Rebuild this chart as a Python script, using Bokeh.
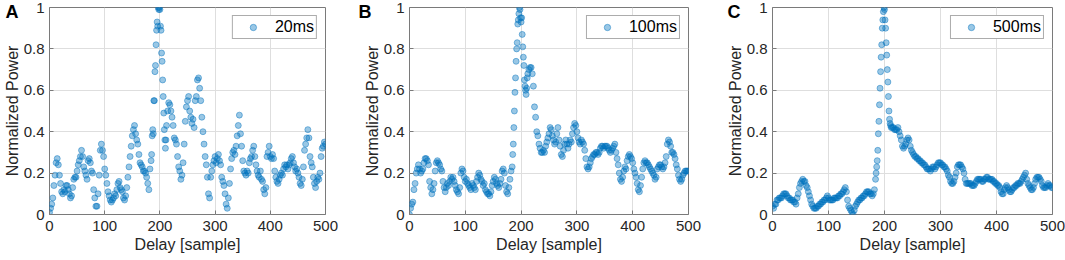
from bokeh.plotting import figure
from bokeh.layouts import row
from bokeh.models import Title, NumeralTickFormatter, FixedTicker, Range1d
from bokeh.embed import file_html
from bokeh.resources import INLINE

# sample positions (every 2nd sample, every sample around the peak)
delay = list(range(0, 184, 2)) + list(range(184, 213)) + list(range(214, 501, 2))

power_20ms = [
    0.01, 0.03, 0.05, 0.08, 0.14, 0.19, 0.25, 0.27, 0.24, 0.19,
    0.15, 0.11, 0.10, 0.12, 0.11, 0.14, 0.14, 0.12, 0.10, 0.08,
    0.09, 0.13, 0.17, 0.18, 0.18, 0.21, 0.24, 0.26, 0.28, 0.31,
    0.28, 0.23, 0.21, 0.19, 0.17, 0.26, 0.27, 0.25, 0.21, 0.20,
    0.12, 0.08, 0.04, 0.04, 0.10, 0.19, 0.31, 0.34, 0.31, 0.28,
    0.22, 0.19, 0.15, 0.11, 0.09, 0.07, 0.06, 0.07, 0.08, 0.10,
    0.09, 0.12, 0.15, 0.16, 0.13, 0.12, 0.11, 0.08, 0.07, 0.09,
    0.13, 0.18, 0.23, 0.28, 0.33, 0.38, 0.41, 0.43, 0.39, 0.36,
    0.34, 0.29, 0.25, 0.24, 0.23, 0.21, 0.21, 0.20, 0.18, 0.15,
    0.12, 0.22,
    0.26, 0.29, 0.38, 0.41, 0.39, 0.55, 0.55, 0.69, 0.72, 0.82,
    0.89, 0.93, 0.91, 1.00, 0.99, 1.00, 0.99, 0.91, 0.89, 0.78,
    0.74, 0.65, 0.57, 0.49, 0.41, 0.36, 0.32, 0.36, 0.43,
    0.50, 0.54, 0.53, 0.50, 0.47, 0.43, 0.37, 0.36, 0.34, 0.28,
    0.23, 0.21, 0.17, 0.19, 0.25, 0.34, 0.45, 0.52, 0.55, 0.57,
    0.50, 0.47, 0.44, 0.46, 0.42, 0.55, 0.57, 0.65, 0.66, 0.61,
    0.55, 0.47, 0.40, 0.34, 0.28, 0.24, 0.18, 0.10, 0.08, 0.18,
    0.21, 0.24, 0.26, 0.28, 0.25, 0.27, 0.29, 0.26, 0.24, 0.18,
    0.16, 0.14, 0.10, 0.05, 0.03, 0.08, 0.15, 0.22, 0.27, 0.30,
    0.31, 0.29, 0.33, 0.38, 0.43, 0.48, 0.39, 0.33, 0.26, 0.21,
    0.20, 0.19, 0.21, 0.20, 0.25, 0.27, 0.28, 0.31, 0.33, 0.28,
    0.24, 0.21, 0.19, 0.18, 0.21, 0.17, 0.16, 0.12, 0.10, 0.13,
    0.28, 0.30, 0.33, 0.28, 0.27, 0.29, 0.27, 0.21, 0.18, 0.16,
    0.15, 0.17, 0.19, 0.20, 0.19, 0.22, 0.24, 0.23, 0.24, 0.22,
    0.24, 0.25, 0.27, 0.28, 0.25, 0.23, 0.21, 0.22, 0.20, 0.18,
    0.15, 0.14, 0.17, 0.23, 0.31, 0.34, 0.37, 0.41, 0.37, 0.28,
    0.25, 0.23, 0.18, 0.15, 0.13, 0.16, 0.18, 0.17, 0.20, 0.28,
    0.32, 0.33, 0.35, 0.34,
]

power_100ms = [
    0.00, 0.03, 0.05, 0.06, 0.12, 0.15, 0.20, 0.22, 0.24, 0.22,
    0.20, 0.21, 0.22, 0.25, 0.27, 0.27, 0.26, 0.24, 0.16, 0.13,
    0.10, 0.12, 0.15, 0.21, 0.25, 0.26, 0.25, 0.24, 0.22, 0.21,
    0.16, 0.13, 0.11, 0.13, 0.15, 0.14, 0.16, 0.18, 0.17, 0.18,
    0.16, 0.14, 0.12, 0.11, 0.10, 0.13, 0.20, 0.22, 0.21, 0.18,
    0.16, 0.17, 0.15, 0.14, 0.13, 0.12, 0.15, 0.14, 0.13, 0.12,
    0.16, 0.18, 0.20, 0.19, 0.17, 0.16, 0.14, 0.15, 0.12, 0.11,
    0.10, 0.10, 0.09, 0.11, 0.14, 0.16, 0.18, 0.17, 0.15, 0.14,
    0.13, 0.15, 0.17, 0.21, 0.22, 0.20, 0.14, 0.11, 0.10, 0.13,
    0.17, 0.21,
    0.23, 0.29, 0.34, 0.42, 0.50, 0.59, 0.66, 0.74, 0.80, 0.83,
    0.92, 0.94, 0.97, 1.00, 0.99, 0.95, 0.93, 0.95, 0.87, 0.81,
    0.76, 0.72, 0.65, 0.62, 0.60, 0.58, 0.61, 0.66, 0.68,
    0.70, 0.71, 0.71, 0.68, 0.62, 0.52, 0.47, 0.40, 0.38, 0.34,
    0.32, 0.30, 0.30, 0.31, 0.30, 0.33, 0.35, 0.37, 0.39, 0.42,
    0.41, 0.38, 0.36, 0.34, 0.35, 0.39, 0.42, 0.36, 0.33, 0.29,
    0.28, 0.31, 0.34, 0.36, 0.34, 0.32, 0.34, 0.36, 0.35, 0.39,
    0.42, 0.44, 0.43, 0.40, 0.37, 0.35, 0.34, 0.36, 0.35, 0.34,
    0.31, 0.27, 0.23, 0.22, 0.23, 0.25, 0.27, 0.28, 0.29, 0.29,
    0.30, 0.30, 0.29, 0.30, 0.32, 0.33, 0.33, 0.32, 0.33, 0.33,
    0.33, 0.32, 0.31, 0.30, 0.31, 0.32, 0.33, 0.34, 0.30, 0.27,
    0.24, 0.20, 0.17, 0.16, 0.18, 0.21, 0.23, 0.22, 0.26, 0.28,
    0.29, 0.28, 0.27, 0.25, 0.22, 0.20, 0.18, 0.15, 0.12, 0.11,
    0.14, 0.18, 0.22, 0.25, 0.26, 0.25, 0.25, 0.24, 0.23, 0.22,
    0.21, 0.20, 0.19, 0.17, 0.18, 0.22, 0.23, 0.24, 0.24, 0.23,
    0.22, 0.23, 0.25, 0.28, 0.34, 0.36, 0.35, 0.33, 0.30, 0.30,
    0.29, 0.27, 0.24, 0.22, 0.19, 0.17, 0.16, 0.17, 0.19, 0.20,
    0.21, 0.21, 0.21, 0.21,
]

power_500ms = [
    0.04, 0.03, 0.05, 0.05, 0.07, 0.07, 0.08, 0.08, 0.08, 0.09,
    0.10, 0.10, 0.10, 0.09, 0.08, 0.08, 0.07, 0.07, 0.07, 0.06,
    0.06, 0.05, 0.08, 0.10, 0.13, 0.15, 0.16, 0.17, 0.16, 0.16,
    0.14, 0.13, 0.11, 0.09, 0.07, 0.05, 0.04, 0.03, 0.03, 0.03,
    0.04, 0.04, 0.05, 0.05, 0.06, 0.06, 0.07, 0.07, 0.08, 0.09,
    0.08, 0.07, 0.07, 0.07, 0.07, 0.08, 0.08, 0.08, 0.08, 0.09,
    0.09, 0.10, 0.10, 0.11, 0.12, 0.13, 0.11, 0.07, 0.04, 0.03,
    0.02, 0.01, 0.00, 0.02, 0.04, 0.05, 0.06, 0.07, 0.07, 0.08,
    0.08, 0.09, 0.09, 0.10, 0.11, 0.11, 0.11, 0.10, 0.10, 0.09,
    0.10, 0.12,
    0.17, 0.20, 0.23, 0.26, 0.31, 0.39, 0.45, 0.53, 0.61, 0.69,
    0.76, 0.82, 0.90, 0.94, 0.98, 1.00, 0.99, 0.94, 0.90, 0.83,
    0.77, 0.70, 0.64, 0.57, 0.50, 0.46, 0.44, 0.43, 0.42,
    0.42, 0.42, 0.41, 0.41, 0.41, 0.42, 0.40, 0.38, 0.36, 0.33,
    0.32, 0.33, 0.34, 0.36, 0.37, 0.36, 0.33, 0.31, 0.30, 0.29,
    0.28, 0.28, 0.27, 0.27, 0.26, 0.26, 0.25, 0.25, 0.24, 0.24,
    0.23, 0.22, 0.22, 0.22, 0.21, 0.22, 0.23, 0.23, 0.22, 0.23,
    0.24, 0.25, 0.25, 0.25, 0.24, 0.24, 0.23, 0.23, 0.22, 0.21,
    0.19, 0.18, 0.16, 0.15, 0.15, 0.16, 0.18, 0.20, 0.23, 0.24,
    0.24, 0.24, 0.23, 0.22, 0.20, 0.17, 0.15, 0.15, 0.15, 0.15,
    0.15, 0.14, 0.14, 0.14, 0.15, 0.16, 0.17, 0.17, 0.17, 0.17,
    0.16, 0.16, 0.17, 0.17, 0.18, 0.18, 0.17, 0.17, 0.17, 0.17,
    0.16, 0.16, 0.15, 0.15, 0.14, 0.14, 0.13, 0.11, 0.10, 0.10,
    0.12, 0.13, 0.14, 0.13, 0.12, 0.11, 0.11, 0.12, 0.13, 0.13,
    0.14, 0.14, 0.15, 0.15, 0.15, 0.16, 0.17, 0.18, 0.19, 0.20,
    0.17, 0.15, 0.14, 0.13, 0.12, 0.12, 0.13, 0.15, 0.17, 0.18,
    0.18, 0.18, 0.17, 0.16, 0.14, 0.13, 0.13, 0.13, 0.14, 0.15,
    0.14, 0.14, 0.13, 0.13,
]

series_labels = ["20ms", "100ms", "500ms"]
panel_letters = ["A", "B", "C"]
x_ticks = [0, 100, 200, 300, 400, 500]
y_ticks = [0, 0.2, 0.4, 0.6, 0.8, 1]

BLUE = "#0072BD"
FONT = "Liberation Sans"


def make_panel(ys, label, letter, width, left, right, letter_offset):
    p = figure(width=width, height=260, output_backend="svg", toolbar_location=None,
               x_range=Range1d(0, 500), y_range=Range1d(0, 1),
               min_border_left=left, min_border_right=right,
               min_border_top=7, min_border_bottom=46)
    p.background_fill_color = "white"
    p.border_fill_color = "white"
    p.outline_line_color = "#7a7a7a"
    p.outline_line_width = 1

    p.scatter(delay, ys, size=6, marker="circle",
              fill_color=BLUE, fill_alpha=0.4,
              line_color=BLUE, line_alpha=0.45, line_width=1,
              legend_label=label)

    for ax in (p.xaxis[0], p.yaxis[0]):
        ax.axis_line_color = None
        ax.major_tick_in = 4
        ax.major_tick_out = 0
        ax.minor_tick_in = 0
        ax.minor_tick_out = 0
        ax.major_tick_line_color = "#7a7a7a"
        ax.major_label_text_font = FONT
        ax.major_label_text_font_size = "15px"
        ax.major_label_text_color = "#262626"
        ax.axis_label_text_font = FONT
        ax.axis_label_text_font_size = "16px"
        ax.axis_label_text_font_style = "normal"
        ax.axis_label_text_color = "#262626"

    p.xaxis.ticker = FixedTicker(ticks=x_ticks)
    p.yaxis.ticker = FixedTicker(ticks=y_ticks)
    p.yaxis.formatter = NumeralTickFormatter(format="0.[0]")
    p.xaxis.axis_label = "Delay [sample]"
    p.yaxis.axis_label = "Normalized Power"
    p.xaxis.major_label_standoff = 6
    p.yaxis.major_label_standoff = 5
    p.xaxis.axis_label_standoff = 2
    p.yaxis.axis_label_standoff = 0

    p.xgrid.grid_line_color = "#dedede"
    p.ygrid.grid_line_color = "#dedede"
    p.xgrid.ticker = FixedTicker(ticks=x_ticks)
    p.ygrid.ticker = FixedTicker(ticks=y_ticks)

    leg = p.legend[0]
    leg.location = "top_right"
    leg.margin = 8
    leg.padding = 2
    leg.spacing = 0
    leg.glyph_width = 36
    leg.glyph_height = 16
    leg.label_standoff = 4
    leg.label_text_font = FONT
    leg.label_text_font_size = "16px"
    leg.label_text_color = "#000000"
    leg.border_line_color = "#5a5a5a"
    leg.border_line_width = 1
    leg.background_fill_color = "white"
    leg.background_fill_alpha = 1.0

    # panel letter in the top-left corner, left of the frame
    p.add_layout(Title(text=letter, align="left", offset=letter_offset, standoff=-28,
                       vertical_align="bottom", text_font=FONT, text_font_size="18px",
                       text_font_style="bold", text_color="#000000"), "above")
    return p


pA = make_panel(power_20ms, series_labels[0], panel_letters[0], 355, 47, 30, -44)
pB = make_panel(power_100ms, series_labels[1], panel_letters[1], 365, 54, 32, -51)
pC = make_panel(power_500ms, series_labels[2], panel_letters[2], 345, 52, 13, -45)

layout = row(pA, pB, pC, spacing=0)
open("out.html", "w").write(file_html(layout, INLINE))
